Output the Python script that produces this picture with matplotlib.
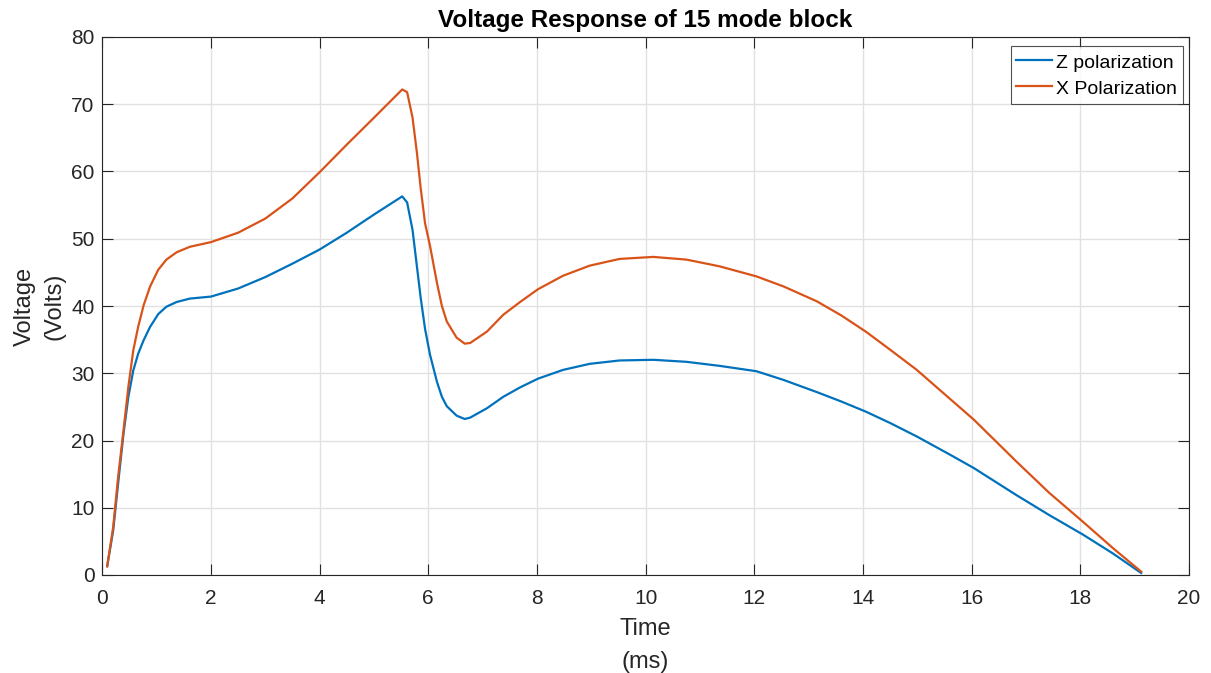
import matplotlib
matplotlib.use("Agg")
import matplotlib.pyplot as plt

# Sample times (ms) and voltages (V) for the two polarizations
time_ms = [0.09, 0.20, 0.29, 0.39, 0.48, 0.57, 0.66, 0.76, 0.88, 1.03,
           1.18, 1.37, 1.61, 2.00, 2.50, 3.00, 3.50, 4.00, 4.50, 5.00,
           5.52, 5.61, 5.71, 5.79, 5.86, 5.94, 6.03, 6.16, 6.25, 6.34,
           6.52, 6.67, 6.77, 7.08, 7.38, 7.69, 8.02, 8.48, 8.97, 9.52,
           10.14, 10.75, 11.36, 12.04, 12.54, 13.15, 13.60, 14.05, 14.50, 14.99,
           15.60, 16.04, 16.82, 17.43, 18.05, 18.60, 19.12]

z_polarization = [1.3, 6.6, 13.5, 21.0, 26.5, 30.4, 32.9, 34.9, 36.9, 38.8,
                  39.9, 40.6, 41.1, 41.4, 42.6, 44.3, 46.3, 48.4, 50.9, 53.6,
                  56.3, 55.4, 51.3, 45.9, 41.2, 36.6, 32.8, 28.7, 26.5, 25.1,
                  23.7, 23.2, 23.4, 24.8, 26.5, 27.9, 29.2, 30.5, 31.4, 31.9,
                  32.0, 31.7, 31.1, 30.3, 29.0, 27.2, 25.8, 24.3, 22.6, 20.6,
                  17.9, 15.9, 11.9, 8.9, 6.0, 3.2, 0.3]

x_polarization = [1.3, 7.1, 14.5, 21.5, 28.0, 33.4, 36.9, 40.1, 42.9, 45.4,
                  46.9, 48.0, 48.8, 49.5, 50.9, 53.0, 56.0, 59.9, 64.0, 68.0,
                  72.2, 71.8, 68.0, 62.8, 57.5, 52.3, 49.0, 43.4, 40.0, 37.7,
                  35.3, 34.4, 34.5, 36.2, 38.7, 40.6, 42.5, 44.5, 46.0, 47.0,
                  47.3, 46.9, 45.9, 44.4, 42.9, 40.7, 38.6, 36.2, 33.5, 30.5,
                  26.2, 23.1, 16.9, 12.2, 7.9, 4.0, 0.5]

x_ticks = [0, 2, 4, 6, 8, 10, 12, 14, 16, 18, 20]
y_ticks = [0, 10, 20, 30, 40, 50, 60, 70, 80]

plt.rcParams['font.family'] = ['Liberation Sans', 'DejaVu Sans']

W, H = 1211, 673
fig = plt.figure(figsize=(W / 100, H / 100), dpi=100)
ax = fig.add_axes([102.3 / W, 1 - 575 / H, (1189 - 102.3) / W, (575 - 37) / H])

ax.plot(time_ms, z_polarization, color='#0072BD', lw=1.6, label='Z polarization',
        solid_joinstyle='round')
ax.plot(time_ms, x_polarization, color='#D95319', lw=1.6, label='X Polarization',
        solid_joinstyle='round')

ax.set_xlim(0, 20)
ax.set_ylim(0, 80)
ax.set_xticks(x_ticks)
ax.set_yticks(y_ticks)
ax.grid(True, color='#e1e1e1', lw=1.0)
ax.set_axisbelow(True)

axis_color = '#262626'
for s in ax.spines.values():
    s.set_color(axis_color)
    s.set_linewidth(0.8)
ax.tick_params(direction='in', length=8, width=0.8, colors=axis_color,
               labelsize=15, top=True, right=True)
ax.tick_params(axis='x', pad=10)
ax.tick_params(axis='y', pad=5.5)

ax.set_title('Voltage Response of 15 mode block', fontsize=17.5, fontweight='bold',
             color='black', pad=7)
ax.set_xlabel('Time\n(ms)', fontsize=17, color=axis_color, linespacing=1.65, labelpad=7)
ax.set_ylabel('Voltage\n(Volts)', fontsize=17, color=axis_color, linespacing=1.45, labelpad=4)

leg = ax.legend(loc='upper right', bbox_to_anchor=(0.9945, 0.9826), borderaxespad=0,
                fontsize=14, frameon=True, fancybox=False, edgecolor='#262626',
                handlelength=1.85, handleheight=1.0, handletextpad=0.2,
                borderpad=0.3, labelspacing=0.35)
leg.get_frame().set_linewidth(0.8)

fig.savefig('out.png', dpi=100)
